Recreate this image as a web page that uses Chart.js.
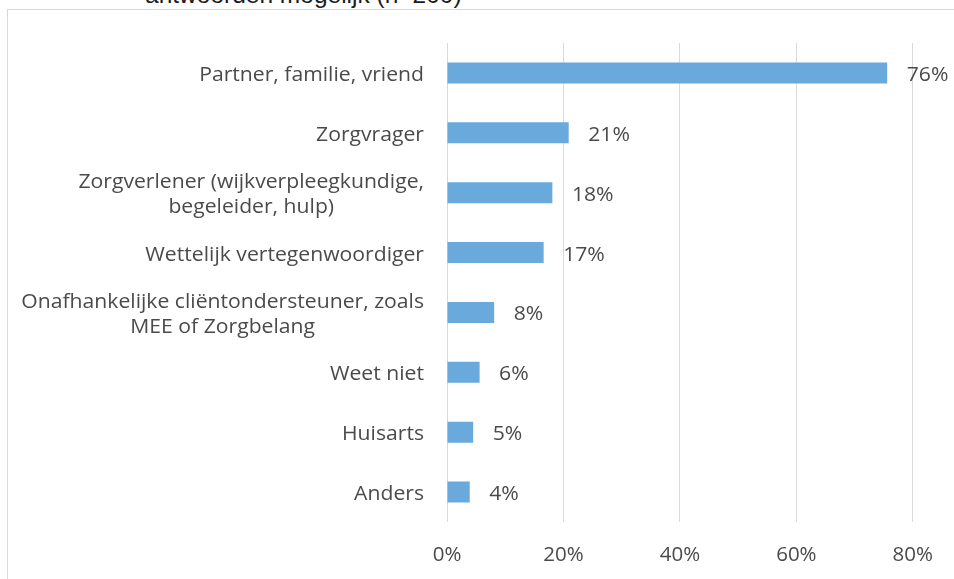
<!DOCTYPE html>
<html>
<head>
<meta charset="utf-8">
<script src="https://cdn.jsdelivr.net/npm/chart.js@4"></script>
<style>
  html, body { margin: 0; padding: 0; background: #fff; overflow: hidden; }
  #wrap { position: relative; width: 954px; height: 579px; overflow: hidden; }
  #frame { position: absolute; left: 7px; top: 9px; width: 1000px; height: 1000px;
           border-left: 1px solid #d9d9d9; border-top: 1px solid #d9d9d9; }
  #title { position: absolute; left: 145px; top: -17px; font: 24.5px/24px 'Liberation Sans', Arial, sans-serif;
           color: #1a1a1a; white-space: nowrap; }
  #box { position: absolute; left: 0; top: 0; width: 954px; height: 579px; }
</style>
</head>
<body>
<div id="wrap">
  <div id="frame"></div>
  <div id="title">antwoorden mogelijk (n=200)</div>
  <div id="box"><canvas id="chart"></canvas></div>
</div>
<script>
// categories (multi-line labels split per line)
const categories = [
  ["Partner, familie, vriend"],
  ["Zorgvrager"],
  ["Zorgverlener (wijkverpleegkundige,", "begeleider, hulp)"],
  ["Wettelijk vertegenwoordiger"],
  ["Onafhankelijke cliëntondersteuner, zoals", "MEE of Zorgbelang"],
  ["Weet niet"],
  ["Huisarts"],
  ["Anders"]
];
// percentages
const values = [75.6, 20.9, 18.1, 16.6, 8.1, 5.6, 4.5, 3.9];
const xMax = 80;
const xStep = 20;

const textColor = '#4a4a4a';
Chart.defaults.font.family = "'Open Sans', sans-serif";
Chart.defaults.color = textColor;

// the source text is a bit wider than it is tall, so stretch it sideways
const stretch = 1.085;

function drawStretched(ctx, text, x, y) {
  ctx.save();
  ctx.translate(x, y);
  ctx.scale(stretch, 1);
  ctx.fillText(text, 0, 0);
  ctx.restore();
}

// draws the category labels (block right aligned, lines centered) and value labels
const labelPlugin = {
  id: 'labelPlugin',
  afterDraw(chart) {
    const ctx = chart.ctx;
    const yScale = chart.scales.y;
    const area = chart.chartArea;
    ctx.save();
    ctx.font = "19.5px 'Open Sans'";
    ctx.fillStyle = textColor;
    ctx.textBaseline = 'alphabetic';
    ctx.textAlign = 'center';
    categories.forEach((lines, i) => {
      const y = yScale.getPixelForValue(i);
      const w = Math.max(...lines.map(l => ctx.measureText(l).width)) * stretch;
      const cx = area.left - 23 - w / 2;
      lines.forEach((line, j) => {
        const off = (j - (lines.length - 1) / 2) * 25;
        drawStretched(ctx, line, cx, y + 8 + off);
      });
    });

    const meta = chart.getDatasetMeta(0);
    ctx.textAlign = 'left';
    meta.data.forEach((bar, i) => {
      drawStretched(ctx, Math.round(values[i]) + '%', bar.x + 19.5, bar.y + 8);
    });
    ctx.restore();
  }
};

new Chart(document.getElementById('chart'), {
  type: 'bar',
  data: {
    labels: categories.map(c => c.join(' ')),
    datasets: [{
      data: values,
      backgroundColor: '#6aa9db',
      borderWidth: 0,
      barPercentage: 0.35,
      categoryPercentage: 1
    }]
  },
  options: {
    indexAxis: 'y',
    responsive: true,
    maintainAspectRatio: false,
    animation: false,
    layout: { padding: { top: 43, right: 41, left: 0, bottom: 0 } },
    plugins: {
      legend: { display: false },
      tooltip: { enabled: false }
    },
    scales: {
      x: {
        min: 0,
        max: xMax,
        grid: { color: '#d9d9d9', lineWidth: 1, drawTicks: false },
        border: { display: false },
        ticks: {
          stepSize: xStep,
          padding: 21,
          font: { size: 20.5 },
          color: textColor,
          callback: v => v + '%'
        },
        afterFit: s => { s.height = 57; }
      },
      y: {
        grid: { display: false },
        border: { display: false },
        ticks: { display: false },
        afterFit: s => { s.width = 447; }
      }
    }
  },
  plugins: [labelPlugin]
});
</script>
</body>
</html>
